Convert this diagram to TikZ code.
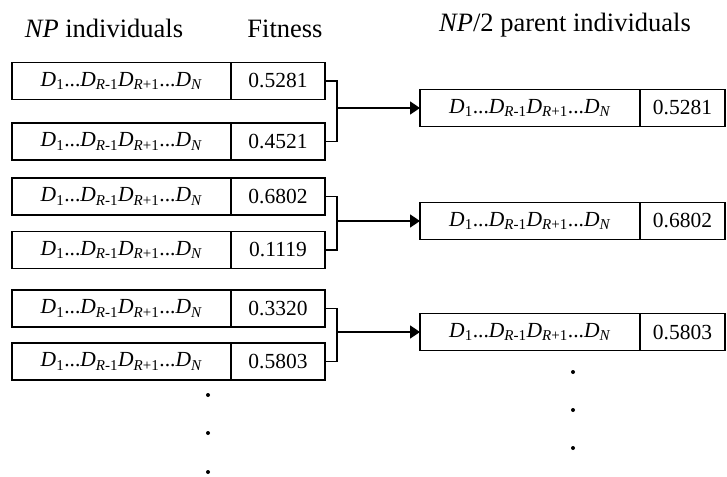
\documentclass[tikz,border=0pt]{standalone}
\usepackage{fontspec}
\setmainfont{Liberation Serif}
\usetikzlibrary{positioning,calc,arrows.meta}
\tikzset{cell/.style={draw, line width=1.8pt, minimum height=37pt, inner sep=0pt, outer sep=0pt, font=\fontsize{21.5}{24}\selectfont}}
\tikzset{gene/.style={cell, minimum width=219pt}}
\tikzset{fitv/.style={cell, minimum width=94pt}}
\tikzset{pgene/.style={cell, minimum width=220pt}}
\tikzset{pfit/.style={cell, minimum width=85pt}}
\tikzset{brk/.style={draw, line width=1.8pt}}
\tikzset{arr/.style={brk, -{Triangle[length=10pt,width=13pt]}}}
\tikzset{hdr/.style={anchor=base, inner sep=0pt, font=\fontsize{26.5}{30}\selectfont}}
\tikzset{dot/.style={circle, fill, inner sep=0pt, minimum size=4pt}}
\newcommand{\chrom}{\textit{D}\textsubscript{1}...\textit{D}\textsubscript{\textit{R}-1}\textit{D}\textsubscript{\textit{R}+1}...\textit{D}\textsubscript{\textit{N}}}

\begin{document}
\begin{tikzpicture}[x=1pt, y=-1pt]
	\useasboundingbox (0,0) rectangle (727,476);
	% headers
	\node[hdr] (hind) at (104,38) {\textit{NP} individuals};
	\node[hdr] (hfit) at (285,38) {Fitness};
	\node[hdr] (hpar) at (565,32) {\textit{NP}/2 parent individuals};
	% NP individuals
	\node[gene] (ind1) at (121.5,81) {\chrom};
	\node[fitv, right=0pt of ind1] (fit1) {0.5281};
	\node[gene] (ind2) at (121.5,141.5) {\chrom};
	\node[fitv, right=0pt of ind2] (fit2) {0.4521};
	\node[gene] (ind3) at (121.5,196.5) {\chrom};
	\node[fitv, right=0pt of ind3] (fit3) {0.6802};
	\node[gene] (ind4) at (121.5,250) {\chrom};
	\node[fitv, right=0pt of ind4] (fit4) {0.1119};
	\node[gene] (ind5) at (121.5,308.5) {\chrom};
	\node[fitv, right=0pt of ind5] (fit5) {0.3320};
	\node[gene] (ind6) at (121.5,361.5) {\chrom};
	\node[fitv, right=0pt of ind6] (fit6) {0.5803};
	% parents
	\node[pgene] (par1) at (530,108) {\chrom};
	\node[pfit, right=0pt of par1] (pfit1) {0.5281};
	\node[pgene] (par2) at (530,221) {\chrom};
	\node[pfit, right=0pt of par2] (pfit2) {0.6802};
	\node[pgene] (par3) at (530,332) {\chrom};
	\node[pfit, right=0pt of par3] (pfit3) {0.5803};
	% selection brackets
	\draw[brk] (fit1.east) -- ++(12,0) coordinate (b1) |- (fit2.east);
	\draw[arr] (b1 |- par1.west) -- (par1.west);
	\draw[brk] (fit3.east) -- ++(12,0) coordinate (b2) |- (fit4.east);
	\draw[arr] (b2 |- par2.west) -- (par2.west);
	\draw[brk] (fit5.east) -- ++(12,0) coordinate (b3) |- (fit6.east);
	\draw[arr] (b3 |- par3.west) -- (par3.west);
	% dots
	\node[dot] (dl1) at (208,395) {};
	\node[dot] (dl2) at (208,433) {};
	\node[dot] (dl3) at (208,472) {};
	\node[dot] (dr1) at (573,372) {};
	\node[dot] (dr2) at (573,410) {};
	\node[dot] (dr3) at (573,448) {};
\end{tikzpicture}
\end{document}
